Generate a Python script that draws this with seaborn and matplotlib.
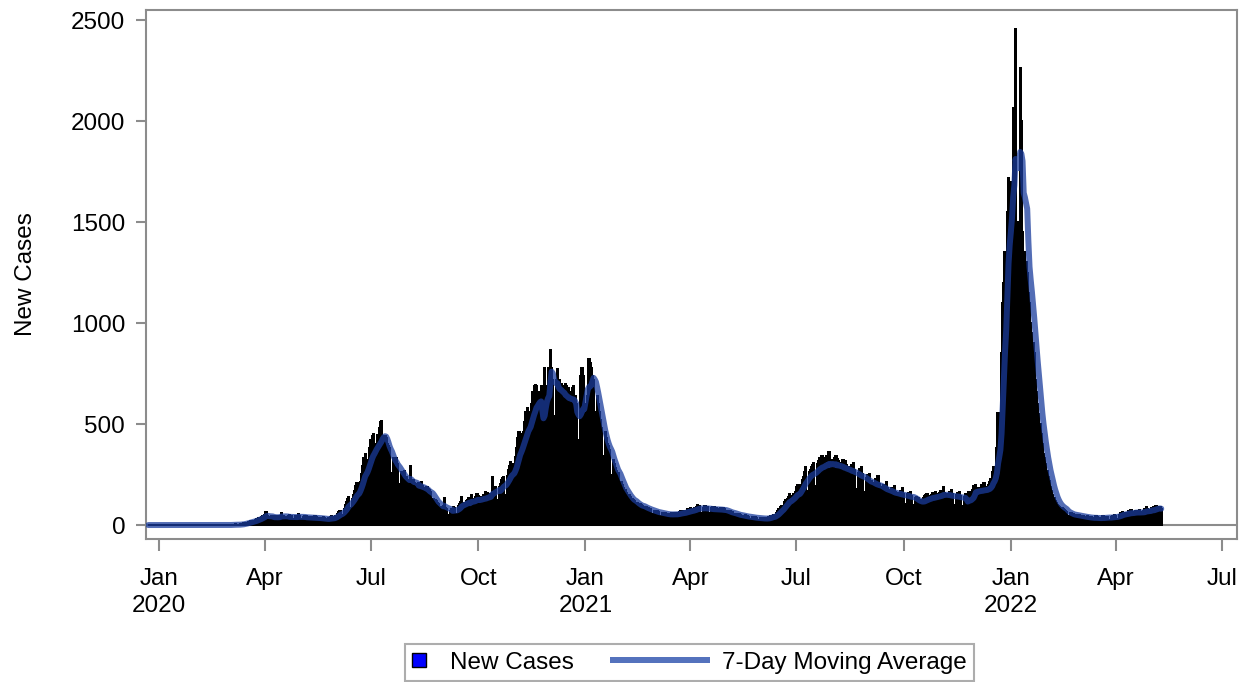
import numpy as np
import pandas as pd
import matplotlib
matplotlib.use('Agg')
import matplotlib.pyplot as plt
import matplotlib.dates as mdates
import matplotlib.patches as mpatches
from matplotlib.legend_handler import HandlerPatch
import seaborn as sns

# 每日新增病例（从 2019-12-23 周一开始，每行一周：周一 ... 周日）
start_date = "2019-12-23"
weekly_rows = [
    [0, 0, 0, 0, 0, 0, 0], [0, 0, 0, 0, 0, 0, 0], [0, 0, 0, 0, 0, 0, 0],
    [0, 0, 0, 0, 0, 0, 0], [0, 0, 0, 0, 0, 0, 0], [0, 0, 0, 0, 0, 0, 0],
    [0, 0, 0, 0, 0, 0, 0], [0, 0, 0, 0, 0, 0, 0], [0, 0, 0, 0, 0, 0, 0],
    [0, 0, 0, 1, 0, 0, 1], [1, 0, 2, 1, 2, 3, 2],
    [1, 2, 3, 4, 6, 8, 10], [10, 12, 14, 16, 18, 15, 20],
    [22, 25, 28, 32, 35, 30, 38], [44, 46, 48, 65, 46, 30, 28],
    [42, 44, 43, 40, 46, 28, 26], [45, 47, 62, 44, 46, 30, 28],
    [42, 44, 50, 43, 45, 28, 26], [43, 46, 44, 54, 43, 28, 27],
    [41, 43, 42, 45, 40, 26, 25], [38, 41, 40, 43, 38, 25, 24],
    [34, 37, 35, 38, 33, 21, 20], [30, 36, 40, 44, 40, 24, 24],
    [46, 55, 64, 72, 70, 42, 48], [80, 98, 112, 130, 138, 78, 82],
    [130, 150, 170, 195, 210, 118, 125], [215, 255, 290, 330, 350, 190, 200],
    [320, 380, 420, 440, 450, 260, 280], [400, 445, 480, 510, 515, 350, 340],
    [440, 430, 400, 390, 380, 250, 260], [330, 320, 310, 330, 300, 200, 205],
    [265, 255, 245, 270, 240, 160, 165], [225, 292, 215, 225, 210, 150, 155],
    [205, 210, 200, 215, 195, 135, 140], [182, 188, 178, 172, 162, 110, 112],
    [130, 125, 118, 108, 102, 70, 70], [88, 92, 134, 82, 78, 50, 52],
    [72, 78, 80, 88, 85, 52, 55], [95, 105, 115, 140, 110, 72, 75],
    [118, 122, 132, 128, 150, 80, 82], [128, 138, 155, 142, 140, 88, 90],
    [140, 150, 162, 152, 158, 100, 102], [155, 238, 180, 175, 190, 120, 122],
    [190, 205, 222, 232, 238, 148, 150], [245, 272, 290, 310, 300, 185, 190],
    [335, 380, 430, 460, 450, 280, 295], [460, 510, 560, 580, 560, 360, 370],
    [600, 660, 690, 695, 690, 420, 440], [660, 690, 380, 420, 780, 690, 660],
    [780, 760, 866, 780, 720, 520, 540], [720, 772, 720, 716, 700, 480, 500],
    [690, 700, 690, 680, 660, 470, 480], [680, 690, 640, 600, 360, 380, 420],
    [740, 780, 739, 600, 600, 600, 640], [822, 800, 780, 740, 720, 540, 560],
    [640, 600, 560, 520, 480, 320, 340], [460, 430, 400, 390, 370, 240, 250],
    [320, 300, 280, 270, 260, 170, 175], [215, 200, 185, 175, 160, 105, 110],
    [148, 140, 130, 126, 118, 80, 82], [110, 106, 102, 98, 96, 68, 70],
    [88, 86, 82, 80, 78, 54, 55], [72, 70, 68, 68, 65, 45, 46],
    [61, 60, 59, 60, 57, 40, 40], [56, 58, 58, 62, 60, 38, 40],
    [62, 65, 68, 70, 68, 44, 46], [72, 78, 80, 82, 80, 52, 54],
    [84, 90, 98, 94, 92, 58, 60], [86, 94, 96, 90, 88, 56, 58],
    [82, 88, 90, 88, 85, 56, 58], [80, 84, 85, 83, 80, 52, 54],
    [68, 70, 68, 66, 64, 42, 43], [56, 57, 55, 53, 50, 35, 36],
    [46, 48, 46, 44, 42, 30, 30], [40, 41, 39, 38, 36, 26, 26],
    [35, 37, 36, 35, 33, 24, 25], [38, 42, 45, 47, 50, 32, 34],
    [62, 70, 78, 88, 96, 66, 70], [112, 122, 128, 138, 152, 90, 96],
    [145, 156, 166, 188, 198, 110, 115], [200, 222, 238, 265, 285, 165, 170],
    [265, 275, 285, 295, 305, 190, 195], [300, 315, 330, 318, 340, 205, 210],
    [330, 340, 330, 361, 320, 215, 220], [320, 330, 340, 325, 318, 205, 210],
    [305, 320, 310, 315, 298, 190, 195], [288, 298, 292, 308, 275, 172, 178],
    [260, 276, 265, 286, 254, 160, 162], [232, 248, 238, 254, 220, 145, 146],
    [210, 226, 215, 242, 204, 132, 134], [188, 198, 193, 215, 182, 115, 120],
    [172, 182, 176, 193, 165, 106, 110], [160, 171, 165, 182, 155, 98, 102],
    [152, 160, 155, 165, 146, 94, 97], [132, 138, 130, 134, 122, 78, 80],
    [132, 143, 149, 154, 143, 90, 92], [148, 160, 154, 165, 154, 98, 102],
    [160, 170, 165, 188, 160, 102, 106], [154, 165, 160, 176, 154, 98, 100],
    [148, 160, 154, 165, 143, 90, 96], [140, 155, 100, 90, 165, 105, 110],
    [176, 192, 187, 198, 182, 115, 122], [182, 198, 192, 209, 187, 122, 130],
    [200, 215, 230, 265, 285, 190, 230], [380, 554, 450, 513, 850, 1100, 1200],
    [1350, 1300, 1550, 1717, 1500, 1550, 1700], [2064, 1700, 2455, 1500, 1500, 1450, 2262],
    [2000, 1450, 1350, 1350, 1300, 1250, 1150], [1100, 1000, 950, 900, 850, 720, 660],
    [600, 550, 500, 450, 400, 350, 330], [300, 270, 240, 220, 190, 170, 150],
    [135, 120, 110, 100, 95, 90, 85], [84, 80, 76, 72, 66, 44, 42],
    [60, 58, 55, 54, 52, 36, 36], [48, 50, 47, 46, 44, 30, 30],
    [41, 43, 41, 39, 38, 26, 26], [37, 44, 38, 37, 36, 24, 25],
    [45, 40, 42, 41, 39, 26, 27], [42, 45, 47, 48, 45, 29, 30],
    [52, 58, 60, 66, 60, 38, 40], [60, 68, 66, 76, 64, 42, 44],
    [68, 72, 68, 75, 66, 44, 46], [70, 78, 88, 80, 74, 48, 50],
    [84, 88, 90, 95, 92, 60, 62], [88, 80],
]

tick_dates = ["2020-01-01", "2020-04-01", "2020-07-01", "2020-10-01",
              "2021-01-01", "2021-04-01", "2021-07-01", "2021-10-01",
              "2022-01-01", "2022-04-01", "2022-07-01"]
tick_labels = ["Jan\n2020", "Apr", "Jul", "Oct", "Jan\n2021", "Apr", "Jul", "Oct",
               "Jan\n2022", "Apr", "Jul"]
y_ticks = [0, 500, 1000, 1500, 2000, 2500]

cases = [v for row in weekly_rows for v in row]
df = pd.DataFrame({"date": pd.date_range(start_date, periods=len(cases), freq="D"),
                   "cases": cases})
df["ma7"] = df["cases"].rolling(7, min_periods=1).mean()
df["x"] = mdates.date2num(df["date"])

sns.set_theme(style="white")
plt.rcParams['font.family'] = ['Liberation Sans', 'DejaVu Sans']
fs = 17.5
grey = "#8c8c8c"

fig = plt.figure(figsize=(12.49, 6.82), dpi=100)
ax = fig.add_axes([0.1169, 0.2097, 0.8735, 0.7756])

# 零参考线
ax.axhline(0, color=grey, lw=1.5, zorder=0.5)

# 每日柱状图
x_lo = float(df["x"].min()) - 0.5
x_hi = float(df["x"].max()) + 0.5
sns.histplot(data=df, x="x", weights="cases", binwidth=1, binrange=(x_lo, x_hi),
             color="black", alpha=1, edgecolor="black", linewidth=0.3,
             antialiased=False, element="bars", ax=ax, zorder=2)

# 7日移动平均线（半透明，压在柱子上）
sns.lineplot(data=df, x="x", y="ma7", color="#1a3c9c", alpha=0.75, linewidth=4.3,
             ax=ax, zorder=3)

ax.set_xlim(mdates.date2num(pd.Timestamp("2019-12-21")), mdates.date2num(pd.Timestamp("2022-07-14")))
ax.set_ylim(-69, 2550)
ax.set_xticks(mdates.date2num(pd.to_datetime(tick_dates)))
ax.set_xticklabels(tick_labels, fontsize=fs, linespacing=1.3)
ax.set_yticks(y_ticks)
ax.set_yticklabels([str(v) for v in y_ticks], fontsize=fs)
ax.tick_params(axis="x", length=8.6, width=1.5, color=grey, pad=12, bottom=True,
               labelcolor="black")
ax.tick_params(axis="y", length=7, width=1.5, color=grey, pad=8, left=True,
               labelcolor="black")
ax.set_xlabel("")
ax.set_ylabel("New Cases", fontsize=fs, labelpad=24, color="black")
for s in ax.spines.values():
    s.set_color(grey)
    s.set_linewidth(1.5)

# 图例：方块和粗线
text_pad = 1.0


def square_func(legend, orig_handle, xdescent, ydescent, width, height, fontsize):
    s = 10.0
    return mpatches.Rectangle((-xdescent, -ydescent + (height - s) / 2), s, s)


def line_func(legend, orig_handle, xdescent, ydescent, width, height, fontsize):
    x1 = -xdescent + width + text_pad * fs - 8.3
    return mpatches.Rectangle((x1 - 72, -ydescent + height / 2 - 2.15), 72, 4.3)


h_sq = mpatches.Patch(facecolor="#0000ff", edgecolor="black", linewidth=1)
h_ln = mpatches.Patch(facecolor="#5472bd", edgecolor="none", linewidth=0)
leg = fig.legend([h_sq, h_ln], ["New Cases", "7-Day Moving Average"],
                 loc="center", bbox_to_anchor=(0.552, 0.0286), ncol=2,
                 handlelength=10 / fs, handletextpad=text_pad, columnspacing=4.5,
                 frameon=True, fancybox=False, edgecolor="#999999", borderpad=0.3,
                 fontsize=fs, labelcolor="black",
                 handler_map={h_sq: HandlerPatch(patch_func=square_func),
                              h_ln: HandlerPatch(patch_func=line_func)})
leg.get_frame().set_linewidth(1.5)

fig.savefig("out.png", dpi=100)
